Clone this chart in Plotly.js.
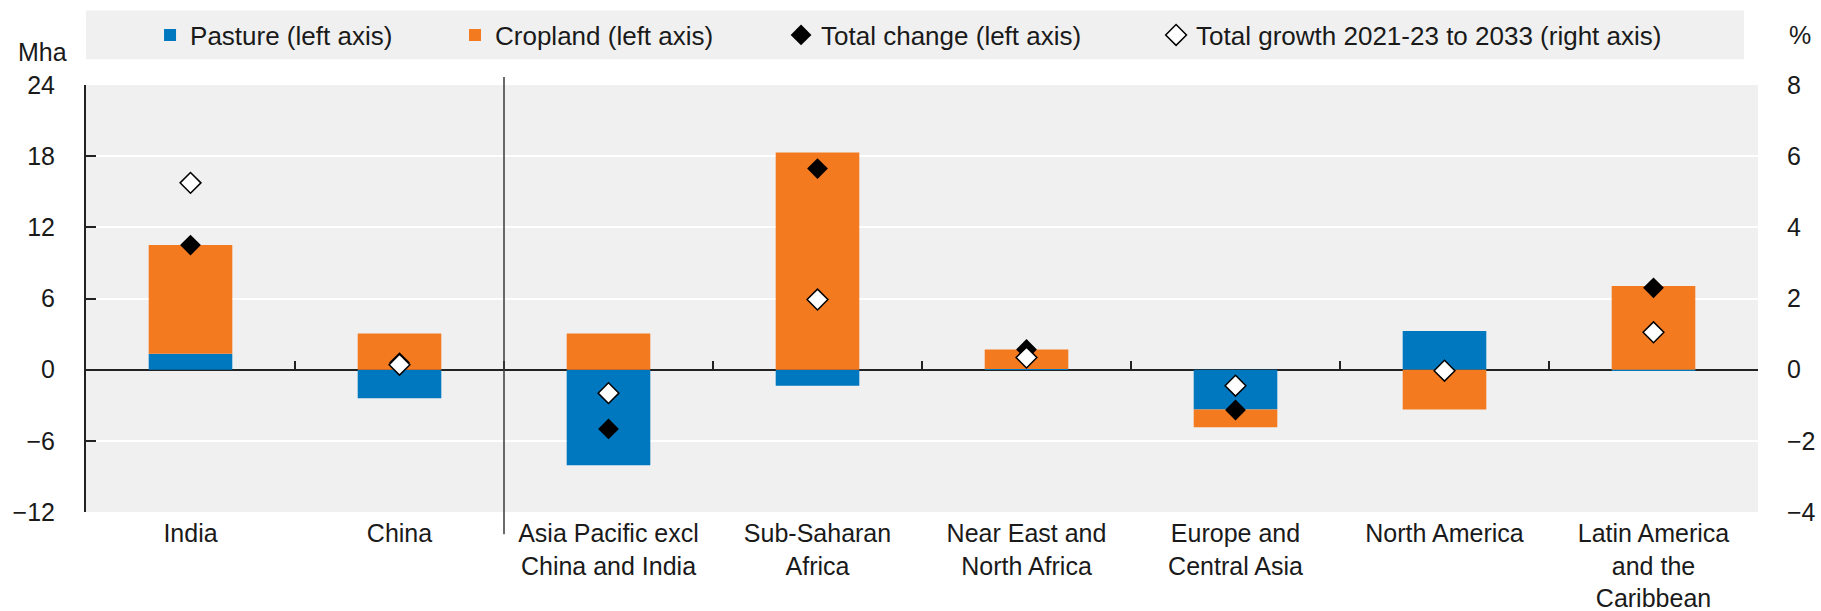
<!DOCTYPE html>
<html>
<head>
<meta charset="utf-8">
<script src="https://cdn.plot.ly/plotly-3.0.1.min.js"></script>
<style>html,body{margin:0;padding:0;background:#fff;}#chart{width:1821px;height:611px;}</style>
</head>
<body>
<div id="chart"></div>
<script>
// ---- data (Mha on left axis, % on right axis) ----
const categories = [
  "India",
  "China",
  "Asia Pacific excl<br>China and India",
  "Sub-Saharan<br>Africa",
  "Near East and<br>North Africa",
  "Europe and<br>Central Asia",
  "North America",
  "Latin America<br>and the<br>Caribbean"
];
const pasture     = [1.35, -2.4, -8.05, -1.35, 0.05, -3.35, 3.27, -0.1];
const cropland    = [9.15, 3.05, 3.05, 18.3, 1.65, -1.5, -3.36, 7.05];
const totalChange = [10.5, 0.6, -5.0, 16.95, 1.7, -3.4, -0.1, 6.9];
const totalGrowth = [5.25, 0.14, -0.66, 1.97, 0.34, -0.45, -0.03, 1.05];
const leftTicks  = [-12, -6, 0, 6, 12, 18, 24];
const rightTicks = [-4, -2, 0, 2, 4, 6, 8];
const seriesNames = [
  "Pasture (left axis)",
  "Cropland (left axis)",
  "Total change (left axis)",
  "Total growth 2021-23 to 2033 (right axis)"
];

const FONT = "Liberation Sans, Arial, sans-serif";
const TXT = "#1a1a1a";
const idx = categories.map((c, i) => i);
const boundaries = categories.map((c, i) => i + 0.5);

const traces = [
  {type: "bar", name: seriesNames[0], x: idx, y: pasture, xaxis: "x", yaxis: "y",
   marker: {color: "#0078C0", line: {width: 0}}, legend: "legend", hoverinfo: "y"},
  {type: "bar", name: seriesNames[1], x: idx, y: cropland, xaxis: "x", yaxis: "y",
   marker: {color: "#F47A20", line: {width: 0}}, legend: "legend2", hoverinfo: "y"},
  {type: "scatter", mode: "markers", name: seriesNames[2], x: idx, y: totalChange, xaxis: "x", yaxis: "y",
   marker: {symbol: "diamond", size: 16, color: "#000000", line: {width: 0}}, legend: "legend3", cliponaxis: false},
  {type: "scatter", mode: "markers", name: seriesNames[3], x: idx, y: totalGrowth, xaxis: "x", yaxis: "y2",
   marker: {symbol: "diamond", size: 16, color: "#ffffff", line: {width: 1.5, color: "#000000"}}, legend: "legend4", cliponaxis: false},
  {type: "scatter", mode: "markers", x: [], y: [], xaxis: "x2", yaxis: "y", showlegend: false, hoverinfo: "skip"}
];

const legendBase = (x) => ({
  x: x, y: 1.117, xanchor: "left", yanchor: "middle", orientation: "h",
  bgcolor: "rgba(0,0,0,0)", borderwidth: 0,
  font: {family: FONT, size: 26, color: TXT}
});

const layout = {
  width: 1821, height: 611,
  margin: {l: 86, r: 63, t: 82, b: 98.5},
  paper_bgcolor: "#ffffff",
  plot_bgcolor: "#f0f0f0",
  barmode: "relative",
  bargap: 0.6,
  font: {family: FONT, size: 25, color: TXT},
  showlegend: true,
  legend:  legendBase(0.0383),
  legend2: legendBase(0.2207),
  legend3: legendBase(0.4157),
  legend4: legendBase(0.640),
  xaxis: {
    type: "linear", range: [-0.5, 7.5],
    tickmode: "array", tickvals: idx, ticktext: categories,
    ticks: "", showline: false, showgrid: false, zeroline: false,
    tickfont: {family: FONT, size: 25, color: TXT},
    ticklabelstandoff: 4, fixedrange: true
  },
  xaxis2: {
    type: "linear", range: [-0.5, 7.5], overlaying: "x", anchor: "free", position: 1/3, side: "bottom",
    tickmode: "array", tickvals: boundaries, ticks: "inside", ticklen: 9, tickwidth: 2, tickcolor: "#222",
    showticklabels: false, showline: false, showgrid: false, zeroline: false, fixedrange: true
  },
  yaxis: {
    range: [-12, 24], tickmode: "array", tickvals: leftTicks,
    showgrid: true, gridcolor: "#ffffff", gridwidth: 2,
    zeroline: true, zerolinecolor: "#222", zerolinewidth: 2,
    showline: true, linecolor: "#222", linewidth: 2,
    ticks: "inside", ticklen: 10, tickwidth: 2, tickcolor: "#222",
    tickfont: {family: FONT, size: 25, color: TXT},
    ticklabelstandoff: 24, fixedrange: true
  },
  yaxis2: {
    range: [-4, 8], tickmode: "array", tickvals: rightTicks, overlaying: "y", side: "right",
    showgrid: false, zeroline: false, showline: false, ticks: "",
    tickfont: {family: FONT, size: 25, color: TXT},
    ticklabelstandoff: 28, fixedrange: true
  },
  shapes: [
    {type: "rect", xref: "paper", yref: "paper", x0: 0, x1: 0.9916, y0: 1.0604, y1: 1.1742,
     fillcolor: "#f0f0f0", line: {width: 0}, layer: "below"},
    {type: "line", xref: "x2", yref: "paper", x0: 1.5, x1: 1.5, y0: -0.052, y1: 1.0186,
     line: {color: "#3a3a3a", width: 1.5}, layer: "above"}
  ],
  annotations: [
    {text: "Mha", xref: "paper", yref: "paper", x: -0.026, y: 1.0767, xanchor: "center", yanchor: "middle",
     showarrow: false, font: {family: FONT, size: 25, color: TXT}},
    {text: "%", xref: "paper", yref: "paper", x: 1.0251, y: 1.116, xanchor: "center", yanchor: "middle",
     showarrow: false, font: {family: FONT, size: 25, color: TXT}}
  ]
};

Plotly.newPlot("chart", traces, layout, {displayModeBar: false, responsive: false});
</script>
</body>
</html>
